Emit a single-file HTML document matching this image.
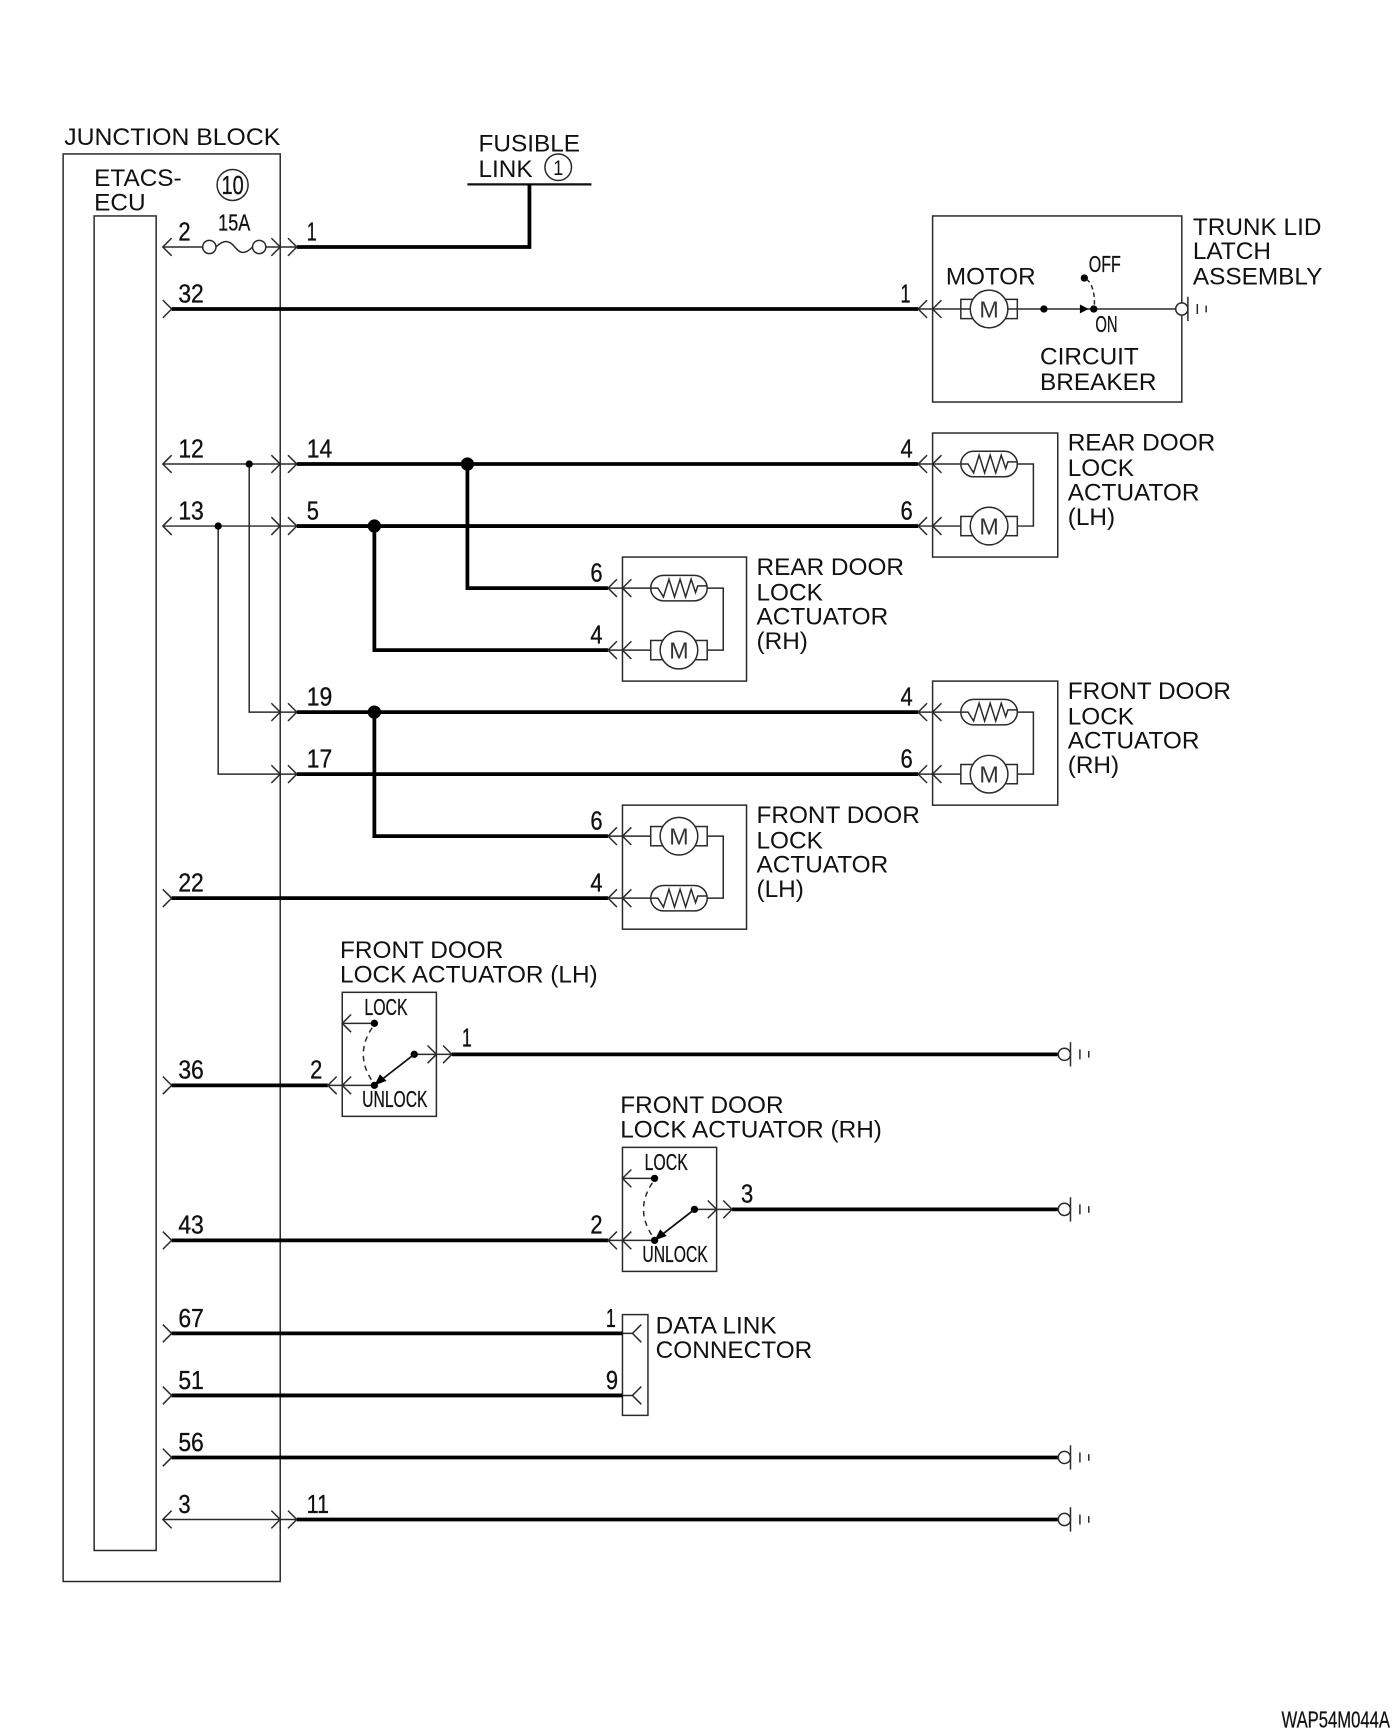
<!DOCTYPE html>
<html>
<head>
<meta charset="utf-8">
<style>
html,body{margin:0;padding:0;background:#fff;width:1400px;height:1736px;overflow:hidden}
svg{display:block}
text{font-family:"Liberation Sans",sans-serif;fill:#111}
.l{font-size:22px}
.n{font-size:23.5px;stroke:#111;stroke-width:.3}
.s{font-size:20.5px;stroke:#111;stroke-width:.25}
.m{font-size:21px;text-anchor:middle;fill:#333}
.thin{fill:none;stroke:#2a2a2a;stroke-width:1.35}
.thick{fill:none;stroke:#000;stroke-width:3.4}
</style>
</head>
<body>
<svg width="1400" height="1736" viewBox="0 0 1264 1567.5" preserveAspectRatio="none" xmlns="http://www.w3.org/2000/svg">
<defs>
<path id="cl" class="thin" d="M8 -8L0 0L8 8"/>
<path id="cr" class="thin" d="M-8 -8L0 0L-8 8"/>
<g id="motor">
<rect class="thin" x="-25.5" y="-8.7" width="51" height="17.4" fill="#fff"/>
<circle cx="0" cy="0" r="17" fill="#fff" stroke="#2a2a2a" stroke-width="1.35"/>
</g>
<g id="heater">
<rect class="thin" x="-25.5" y="-11.5" width="51" height="23" rx="11.5"/>
<path class="thin" d="M-25.5 0H-19L-14 8L-9 -8L-4 8L1 -8L6 8L11 -8L15 4L17 -2H25.5"/>
</g>
<g id="gnd">
<circle cx="0" cy="0" r="5.5" fill="#fff" stroke="#2a2a2a" stroke-width="1.35"/>
<path class="thin" d="M5.5 -11V11M14 -4.5V4.5M22 -3V3"/>
</g>
<path id="jr" class="thin" d="M245 -8L253 0L245 8M260 -8L268 0L260 8M253 0H268"/>
</defs>

<!-- main boxes -->
<rect class="thin" x="57" y="139" width="196" height="1289"/>
<rect class="thin" x="85" y="195" width="56" height="1205"/>

<text class="l" x="58" y="131" textLength="195" lengthAdjust="spacingAndGlyphs">JUNCTION BLOCK</text>
<text class="l" x="85" y="168">ETACS-</text>
<text class="l" x="85" y="190">ECU</text>
<circle class="thin" cx="210" cy="167" r="14"/>
<text class="n" x="200" y="175" textLength="20" lengthAdjust="spacingAndGlyphs">10</text>

<!-- fusible link -->
<text class="l" x="432" y="137">FUSIBLE</text>
<text class="l" x="432" y="160">LINK</text>
<circle class="thin" cx="504" cy="151" r="12"/>
<text x="499.5" y="158" style="font-size:19px" textLength="9" lengthAdjust="spacingAndGlyphs">1</text>
<path d="M422 166.5H534" fill="none" stroke="#111" stroke-width="2"/>
<path class="thick" d="M478 166V223H268"/>

<!-- fuse -->
<use href="#cl" x="147" y="223"/>
<path class="thin" d="M147 223H183M240 223H253"/>
<circle class="thin" cx="189" cy="223" r="6"/>
<circle class="thin" cx="234" cy="223" r="6"/>
<path class="thin" d="M195 223C203 215 208 218 212 223S220 231 228 223"/>
<text class="s" x="197" y="208" textLength="29" lengthAdjust="spacingAndGlyphs">15A</text>
<use href="#jr" y="223"/>

<!-- wire 32 -->
<use href="#cr" x="155" y="279"/>
<path class="thick" d="M155 279H829"/>

<!-- trunk lid -->
<rect class="thin" x="842" y="195" width="225" height="168"/>
<use href="#cl" x="829" y="279"/>
<use href="#cl" x="842" y="279"/>
<path class="thin" d="M829 279H1062"/>
<use href="#motor" x="893" y="279"/>
<text class="m" x="893" y="286.5">M</text>
<circle cx="942.5" cy="279" r="3.3" fill="#000"/>
<path d="M975 275L983 279L975 283Z" fill="#000"/>
<circle cx="987.5" cy="279" r="3.3" fill="#000"/>
<circle cx="979" cy="251" r="3.3" fill="#000"/>
<path class="thin" d="M981 252Q989 259 988 277" stroke-dasharray="4 3"/>
<use href="#gnd" x="1067" y="279"/>
<text class="l" x="854" y="257" textLength="81" lengthAdjust="spacingAndGlyphs">MOTOR</text>
<text class="s" x="983" y="245.5" textLength="29" lengthAdjust="spacingAndGlyphs">OFF</text>
<text class="s" x="989" y="300" textLength="20" lengthAdjust="spacingAndGlyphs">ON</text>
<text class="l" x="939" y="329">CIRCUIT</text>
<text class="l" x="939" y="352">BREAKER</text>
<text class="l" x="1077" y="212">TRUNK LID</text>
<text class="l" x="1077" y="234">LATCH</text>
<text class="l" x="1077" y="257">ASSEMBLY</text>

<!-- door lock wires -->
<use href="#cl" x="147" y="419"/>
<use href="#cl" x="147" y="475"/>
<path class="thin" d="M147 419H253M147 475H253M225 419V643H253M197 475V699H253"/>
<circle cx="225" cy="419" r="3.3" fill="#000"/>
<circle cx="197" cy="475" r="3.3" fill="#000"/>
<use href="#jr" y="419"/>
<use href="#jr" y="475"/>
<use href="#jr" y="643"/>
<use href="#jr" y="699"/>
<path class="thick" d="M268 419H829M268 475H829M422 419V531H549M338 475V587H549M268 643H829M268 699H829M338 643V755H549"/>
<circle cx="422" cy="419" r="6" fill="#000"/>
<circle cx="338" cy="475" r="6" fill="#000"/>
<circle cx="338" cy="643" r="6" fill="#000"/>
<use href="#cr" x="155" y="811"/>
<path class="thick" d="M155 811H549"/>

<!-- actuator A: rear LH -->
<rect class="thin" x="842" y="391" width="113" height="112"/>
<use href="#cl" x="829" y="419"/><use href="#cl" x="842" y="419"/>
<use href="#cl" x="829" y="475"/><use href="#cl" x="842" y="475"/>
<path class="thin" d="M829 419H867.5M829 475H867.5M918.5 419H933V475H918.5"/>
<use href="#heater" x="893" y="419"/>
<use href="#motor" x="893" y="475"/>
<text class="m" x="893" y="482.5">M</text>
<text class="l" x="964" y="407">REAR DOOR</text>
<text class="l" x="964" y="430">LOCK</text>
<text class="l" x="964" y="452">ACTUATOR</text>
<text class="l" x="964" y="474">(LH)</text>

<!-- actuator B: rear RH -->
<rect class="thin" x="562" y="503" width="112" height="112"/>
<use href="#cl" x="549" y="531"/><use href="#cl" x="562" y="531"/>
<use href="#cl" x="549" y="587"/><use href="#cl" x="562" y="587"/>
<path class="thin" d="M549 531H587.5M549 587H587.5M638.5 531H653V587H638.5"/>
<use href="#heater" x="613" y="531"/>
<use href="#motor" x="613" y="587"/>
<text class="m" x="613" y="594.5">M</text>
<text class="l" x="683" y="519">REAR DOOR</text>
<text class="l" x="683" y="542">LOCK</text>
<text class="l" x="683" y="564">ACTUATOR</text>
<text class="l" x="683" y="586">(RH)</text>

<!-- actuator C: front RH -->
<rect class="thin" x="842" y="615" width="113" height="112"/>
<use href="#cl" x="829" y="643"/><use href="#cl" x="842" y="643"/>
<use href="#cl" x="829" y="699"/><use href="#cl" x="842" y="699"/>
<path class="thin" d="M829 643H867.5M829 699H867.5M918.5 643H933V699H918.5"/>
<use href="#heater" x="893" y="643"/>
<use href="#motor" x="893" y="699"/>
<text class="m" x="893" y="706.5">M</text>
<text class="l" x="964" y="631">FRONT DOOR</text>
<text class="l" x="964" y="654">LOCK</text>
<text class="l" x="964" y="676">ACTUATOR</text>
<text class="l" x="964" y="698">(RH)</text>

<!-- actuator D: front LH -->
<rect class="thin" x="562" y="727" width="112" height="112"/>
<use href="#cl" x="549" y="755"/><use href="#cl" x="562" y="755"/>
<use href="#cl" x="549" y="811"/><use href="#cl" x="562" y="811"/>
<path class="thin" d="M549 755H587.5M549 811H587.5M638.5 755H653V811H638.5"/>
<use href="#motor" x="613" y="755"/>
<use href="#heater" x="613" y="811"/>
<text class="m" x="613" y="762.5">M</text>
<text class="l" x="683" y="743">FRONT DOOR</text>
<text class="l" x="683" y="766">LOCK</text>
<text class="l" x="683" y="788">ACTUATOR</text>
<text class="l" x="683" y="810">(LH)</text>

<!-- switch LH -->
<text class="l" x="307" y="865">FRONT DOOR</text>
<text class="l" x="307" y="887">LOCK ACTUATOR (LH)</text>
<rect class="thin" x="309" y="896" width="85" height="112"/>
<use href="#cr" x="155" y="980"/>
<path class="thick" d="M155 980H296"/>
<use href="#cl" x="296" y="980"/><use href="#cl" x="309" y="980"/>
<path class="thin" d="M296 980H338M309 924H338M374 952H394"/>
<use href="#cl" x="309" y="924"/>
<circle cx="338" cy="924" r="3.3" fill="#000"/>
<circle cx="338" cy="980" r="3.3" fill="#000"/>
<circle cx="374" cy="952" r="3.3" fill="#000"/>
<path class="thin" d="M336 928Q320 952 336 976" stroke-dasharray="5 4"/>
<path fill="none" stroke="#111" stroke-width="1.6" d="M374 952L338 980"/>
<path d="M338 980L343 970L349 976Z" fill="#000"/>
<use href="#cr" x="394" y="952"/><use href="#cr" x="408" y="952"/>
<path class="thin" d="M394 952H408"/>
<path class="thick" d="M408 952H955"/>
<use href="#gnd" x="961" y="952"/>
<text class="s" x="329" y="916.5" textLength="39" lengthAdjust="spacingAndGlyphs">LOCK</text>
<text class="s" x="327" y="999.5" textLength="59" lengthAdjust="spacingAndGlyphs">UNLOCK</text>

<!-- switch RH -->
<text class="l" x="560" y="1005">FRONT DOOR</text>
<text class="l" x="560" y="1027">LOCK ACTUATOR (RH)</text>
<rect class="thin" x="562" y="1036" width="85" height="112"/>
<use href="#cr" x="155" y="1120"/>
<path class="thick" d="M155 1120H549"/>
<use href="#cl" x="549" y="1120"/><use href="#cl" x="562" y="1120"/>
<path class="thin" d="M549 1120H591M562 1064H591M627 1092H647"/>
<use href="#cl" x="562" y="1064"/>
<circle cx="591" cy="1064" r="3.3" fill="#000"/>
<circle cx="591" cy="1120" r="3.3" fill="#000"/>
<circle cx="627" cy="1092" r="3.3" fill="#000"/>
<path class="thin" d="M589 1068Q573 1092 589 1116" stroke-dasharray="5 4"/>
<path fill="none" stroke="#111" stroke-width="1.6" d="M627 1092L591 1120"/>
<path d="M591 1120L596 1110L602 1116Z" fill="#000"/>
<use href="#cr" x="647" y="1092"/><use href="#cr" x="661" y="1092"/>
<path class="thin" d="M647 1092H661"/>
<path class="thick" d="M661 1092H955"/>
<use href="#gnd" x="961" y="1092"/>
<text class="s" x="582" y="1056.5" textLength="39" lengthAdjust="spacingAndGlyphs">LOCK</text>
<text class="s" x="580" y="1139.5" textLength="59" lengthAdjust="spacingAndGlyphs">UNLOCK</text>

<!-- data link -->
<rect class="thin" x="562" y="1187" width="23" height="91"/>
<use href="#cr" x="155" y="1204"/>
<use href="#cr" x="155" y="1260"/>
<path class="thick" d="M155 1204H562M155 1260H562"/>
<path class="thin" d="M562 1204H571M562 1260H571"/>
<use href="#cl" x="571" y="1204"/>
<use href="#cl" x="571" y="1260"/>
<text class="l" x="592" y="1204">DATA LINK</text>
<text class="l" x="592" y="1226">CONNECTOR</text>

<!-- wire 56 and 3/11 -->
<use href="#cr" x="155" y="1316"/>
<path class="thick" d="M155 1316H955"/>
<use href="#gnd" x="961" y="1316"/>
<use href="#cl" x="147" y="1372"/>
<path class="thin" d="M147 1372H253"/>
<use href="#jr" y="1372"/>
<path class="thick" d="M268 1372H955"/>
<use href="#gnd" x="961" y="1372"/>

<!-- pin numbers -->
<g>
<text class="n" x="161" y="217" textLength="11" lengthAdjust="spacingAndGlyphs">2</text>
<text class="n" x="277" y="217" textLength="9" lengthAdjust="spacingAndGlyphs">1</text>
<text class="n" x="161" y="273" textLength="23" lengthAdjust="spacingAndGlyphs">32</text>
<text class="n" x="813" y="273" textLength="9" lengthAdjust="spacingAndGlyphs">1</text>
<text class="n" x="161" y="413" textLength="23" lengthAdjust="spacingAndGlyphs">12</text>
<text class="n" x="277" y="413" textLength="23" lengthAdjust="spacingAndGlyphs">14</text>
<text class="n" x="813" y="413" textLength="11" lengthAdjust="spacingAndGlyphs">4</text>
<text class="n" x="161" y="469" textLength="23" lengthAdjust="spacingAndGlyphs">13</text>
<text class="n" x="277" y="469" textLength="11" lengthAdjust="spacingAndGlyphs">5</text>
<text class="n" x="813" y="469" textLength="11" lengthAdjust="spacingAndGlyphs">6</text>
<text class="n" x="533" y="525" textLength="11" lengthAdjust="spacingAndGlyphs">6</text>
<text class="n" x="533" y="581" textLength="11" lengthAdjust="spacingAndGlyphs">4</text>
<text class="n" x="277" y="637" textLength="23" lengthAdjust="spacingAndGlyphs">19</text>
<text class="n" x="813" y="637" textLength="11" lengthAdjust="spacingAndGlyphs">4</text>
<text class="n" x="277" y="693" textLength="23" lengthAdjust="spacingAndGlyphs">17</text>
<text class="n" x="813" y="693" textLength="11" lengthAdjust="spacingAndGlyphs">6</text>
<text class="n" x="533" y="749" textLength="11" lengthAdjust="spacingAndGlyphs">6</text>
<text class="n" x="161" y="805" textLength="23" lengthAdjust="spacingAndGlyphs">22</text>
<text class="n" x="533" y="805" textLength="11" lengthAdjust="spacingAndGlyphs">4</text>
<text class="n" x="417" y="945" textLength="9" lengthAdjust="spacingAndGlyphs">1</text>
<text class="n" x="161" y="974" textLength="23" lengthAdjust="spacingAndGlyphs">36</text>
<text class="n" x="280" y="974" textLength="11" lengthAdjust="spacingAndGlyphs">2</text>
<text class="n" x="669" y="1086" textLength="11" lengthAdjust="spacingAndGlyphs">3</text>
<text class="n" x="161" y="1114" textLength="23" lengthAdjust="spacingAndGlyphs">43</text>
<text class="n" x="533" y="1114" textLength="11" lengthAdjust="spacingAndGlyphs">2</text>
<text class="n" x="161" y="1198" textLength="23" lengthAdjust="spacingAndGlyphs">67</text>
<text class="n" x="547" y="1198" textLength="9" lengthAdjust="spacingAndGlyphs">1</text>
<text class="n" x="161" y="1254" textLength="23" lengthAdjust="spacingAndGlyphs">51</text>
<text class="n" x="547" y="1254" textLength="11" lengthAdjust="spacingAndGlyphs">9</text>
<text class="n" x="161" y="1310" textLength="23" lengthAdjust="spacingAndGlyphs">56</text>
<text class="n" x="161" y="1366" textLength="11" lengthAdjust="spacingAndGlyphs">3</text>
<text class="n" x="277" y="1366" textLength="20" lengthAdjust="spacingAndGlyphs">11</text>
</g>

<text class="s" x="1157" y="1560" textLength="98" lengthAdjust="spacingAndGlyphs">WAP54M044A</text>
</svg>
</body>
</html>
